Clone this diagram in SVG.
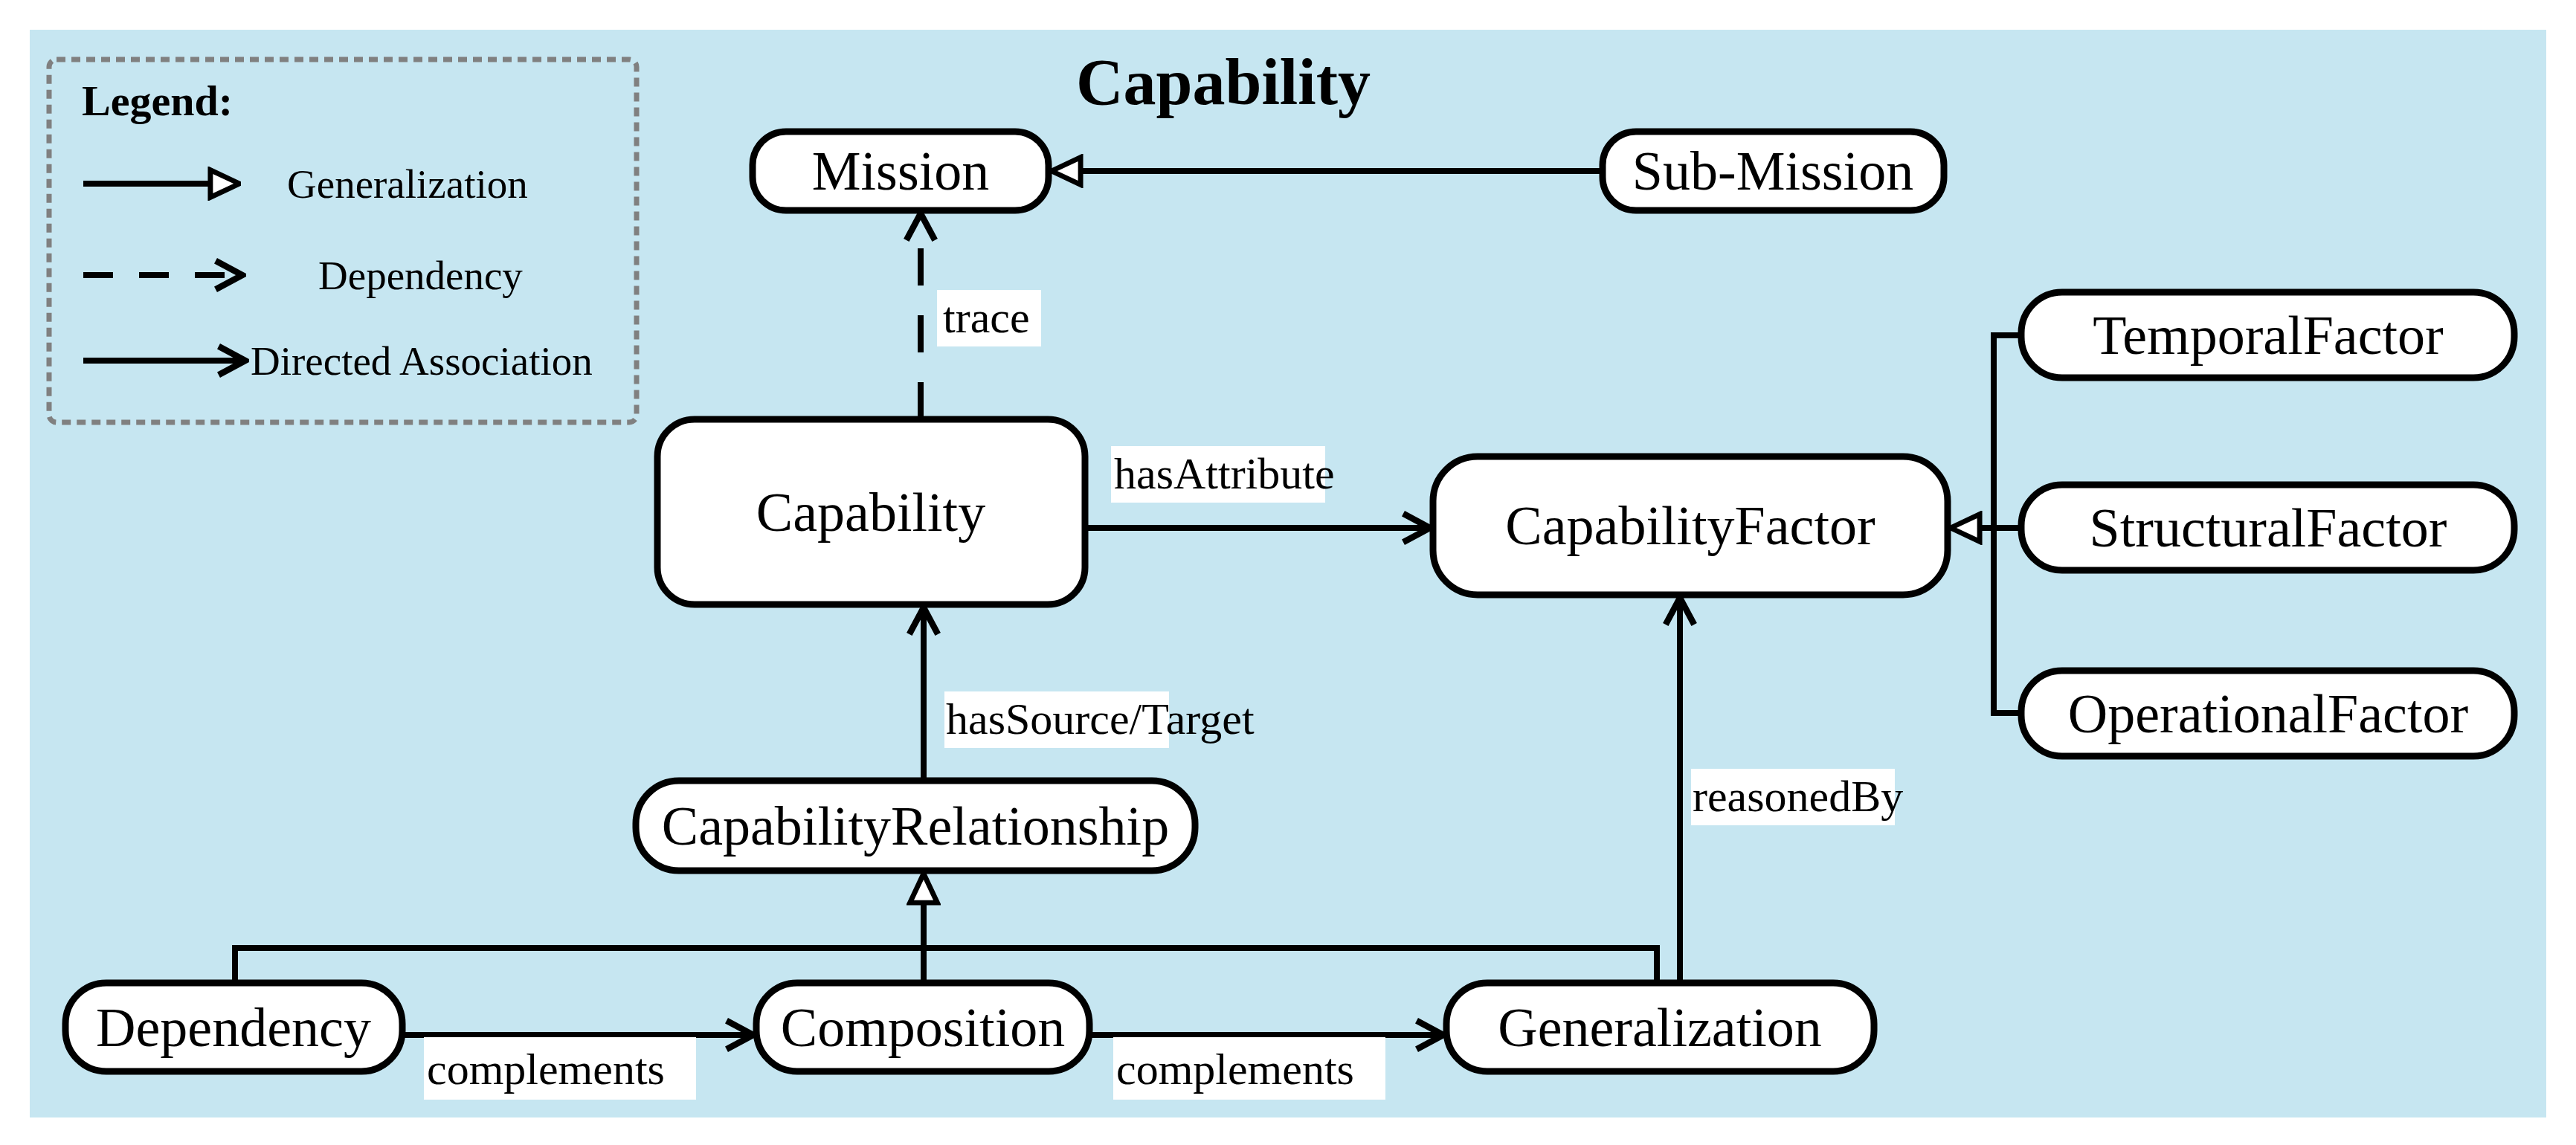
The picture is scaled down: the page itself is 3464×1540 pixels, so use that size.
<svg xmlns="http://www.w3.org/2000/svg" width="3464" height="1540" viewBox="0 0 3464 1540">
<style>
text{font-family:"Liberation Serif","Times New Roman","DejaVu Serif",serif}
.n{fill:#fff;stroke:#000;stroke-width:9}
.t{font-size:74px;text-anchor:middle;dominant-baseline:central}
.l{font-size:60px}
.c{fill:none;stroke:#000;stroke-width:8}
.lg{font-size:55px}
</style>
<defs>
<marker id="tri" viewBox="0 0 20 20" refX="19" refY="10" markerWidth="46" markerHeight="46" markerUnits="userSpaceOnUse" orient="auto"><path d="M2,2 L19,10 L2,18 Z" fill="#fff" stroke="#000" stroke-width="3"/></marker>
<marker id="open" viewBox="0 0 20 20" refX="18" refY="10" markerWidth="48" markerHeight="48" markerUnits="userSpaceOnUse" orient="auto"><path d="M3,2 L18,10 L3,18" fill="none" stroke="#000" stroke-width="3.5"/></marker>
</defs>
<rect x="40" y="40" width="3384" height="1463" fill="#c6e6f1"/>
<g id="legend">
<rect x="66" y="80" width="790" height="488" rx="10" fill="none" stroke="#808080" stroke-width="7" stroke-dasharray="12,8"/>
<text x="110" y="155" font-size="58" font-weight="bold">Legend:</text>
<line x1="112" y1="247" x2="322" y2="247" class="c" marker-end="url(#tri)"/>
<text x="386" y="266" class="lg">Generalization</text>
<line x1="112" y1="370" x2="326" y2="370" class="c" stroke-dasharray="40,35" marker-end="url(#open)"/>
<text x="428" y="389" class="lg">Dependency</text>
<line x1="112" y1="485" x2="330" y2="485" class="c" marker-end="url(#open)"/>
<text x="337" y="504" class="lg">Directed Association</text>
</g>
<text x="1645" y="140" font-size="88" font-weight="bold" text-anchor="middle">Capability</text>
<g id="connectors">
<line x1="2155" y1="230" x2="1414" y2="230" class="c" marker-end="url(#tri)"/>
<line x1="1238" y1="564" x2="1238" y2="287" class="c" stroke-dasharray="50,40" marker-end="url(#open)"/>
<line x1="1459" y1="710" x2="1923" y2="710" class="c" marker-end="url(#open)"/>
<polyline points="2718,451 2681,451 2681,959 2718,959" class="c"/>
<line x1="2681" y1="710" x2="2718" y2="710" class="c"/>
<line x1="2718" y1="710" x2="2623" y2="710" class="c" marker-end="url(#tri)"/>
<line x1="1242" y1="1050" x2="1242" y2="817" class="c" marker-end="url(#open)"/>
<polyline points="316,1322 316,1275 2228,1275 2228,1322" class="c"/>
<line x1="1242" y1="1322" x2="1242" y2="1175" class="c" marker-end="url(#tri)"/>
<line x1="2259" y1="1322" x2="2259" y2="804" class="c" marker-end="url(#open)"/>
<line x1="541" y1="1392" x2="1013" y2="1392" class="c" marker-end="url(#open)"/>
<line x1="1465" y1="1392" x2="1941" y2="1392" class="c" marker-end="url(#open)"/>
<rect x="1260" y="390" width="140" height="76" fill="#fff"/>
<text x="1268" y="447" class="l">trace</text>
<rect x="1494" y="600" width="288" height="76" fill="#fff"/>
<text x="1498" y="657" class="l">hasAttribute</text>
<rect x="1270" y="930" width="302" height="76" fill="#fff"/>
<text x="1272" y="987" class="l">hasSource/Target</text>
<rect x="2274" y="1034" width="274" height="76" fill="#fff"/>
<text x="2276" y="1091" class="l">reasonedBy</text>
<rect x="570" y="1395" width="366" height="84" fill="#fff"/>
<text x="574" y="1458" class="l">complements</text>
<rect x="1497" y="1395" width="366" height="84" fill="#fff"/>
<text x="1501" y="1458" class="l">complements</text>
</g>
<g id="mission"><rect class="n" x="1012" y="177" width="398" height="106" rx="45"/><text class="t" x="1211" y="230">Mission</text></g>
<g id="submission"><rect class="n" x="2155" y="177" width="459" height="106" rx="45"/><text class="t" x="2384" y="230">Sub-Mission</text></g>
<g id="capability"><rect class="n" x="884" y="564" width="575" height="249" rx="50"/><text class="t" x="1171" y="689">Capability</text></g>
<g id="capfactor"><rect class="n" x="1927" y="614" width="692" height="186" rx="60"/><text class="t" x="2273" y="707">CapabilityFactor</text></g>
<g id="temporal"><rect class="n" x="2718" y="393" width="663" height="115" rx="55"/><text class="t" x="3050" y="451">TemporalFactor</text></g>
<g id="structural"><rect class="n" x="2718" y="652" width="663" height="115" rx="55"/><text class="t" x="3050" y="710">StructuralFactor</text></g>
<g id="operational"><rect class="n" x="2718" y="902" width="663" height="115" rx="55"/><text class="t" x="3050" y="960">OperationalFactor</text></g>
<g id="caprel"><rect class="n" x="855" y="1050" width="752" height="121" rx="58"/><text class="t" x="1231" y="1111">CapabilityRelationship</text></g>
<g id="dependency"><rect class="n" x="88" y="1322" width="453" height="119" rx="55"/><text class="t" x="314" y="1382">Dependency</text></g>
<g id="composition"><rect class="n" x="1017" y="1322" width="448" height="119" rx="55"/><text class="t" x="1241" y="1382">Composition</text></g>
<g id="generalization"><rect class="n" x="1945" y="1322" width="575" height="119" rx="55"/><text class="t" x="2232" y="1382">Generalization</text></g>
</svg>
